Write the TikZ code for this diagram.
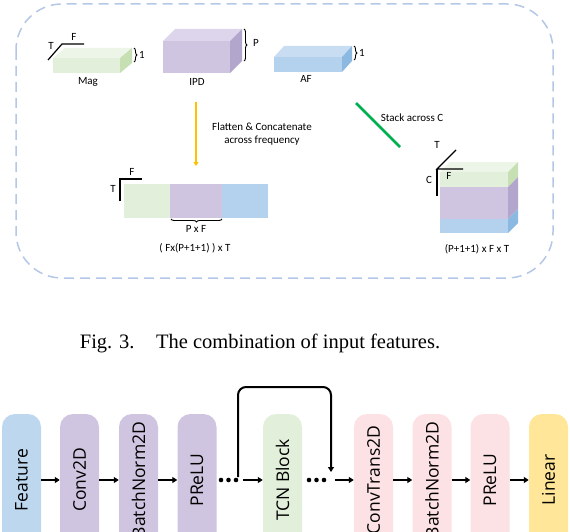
\documentclass[tikz,border=0pt]{standalone}
\usepackage{fontspec}
\setmainfont{Liberation Serif}
\newfontfamily\calibri{Carlito}
\newfontfamily\blocfont{Open Sans}
\usetikzlibrary{arrows.meta,decorations.pathreplacing}

\definecolor{bordbleu}{HTML}{B4C7E7}
\definecolor{vert}{HTML}{E2EFDA}
\definecolor{verthaut}{HTML}{EDF5E8}
\definecolor{vertcote}{HTML}{C6E0B4}
\definecolor{mauve}{HTML}{D0C5E0}
\definecolor{mauvehaut}{HTML}{DDD5EB}
\definecolor{mauvecote}{HTML}{B3A6CC}
\definecolor{bleu}{HTML}{B4D1EE}
\definecolor{bleuhaut}{HTML}{C9DDF2}
\definecolor{bleucote}{HTML}{8CB9E2}
\definecolor{jaune}{HTML}{FFC000}
\definecolor{vertfonce}{HTML}{00B050}
\definecolor{rose}{HTML}{FCE1E5}
\definecolor{jaunepale}{HTML}{FFE699}
\definecolor{bleufeat}{HTML}{BDD7EE}

% pave : x1, y1, x2, y2 (face avant), dx, dy (profondeur), couleur
\newcommand{\pave}[7]{%
  \fill[#7] (#1,#2) rectangle (#3,#4);
  \fill[#7haut] (#1,#2) -- ++(#5,-#6) -- (#3+#5,#2-#6) -- (#3,#2) -- cycle;
  \fill[#7cote] (#3,#2) -- ++(#5,-#6) -- ++(0,#4-#2) -- (#3,#4) -- cycle;
}

\tikzset{
  lbl/.style={font=\calibri\fontsize{11}{13}\selectfont, inner sep=0pt},
  axe/.style={line width=1.2pt},
  acc/.style={decorate, decoration={brace, amplitude=3pt}, line width=0.9pt},
  bloc/.style={rounded corners=13pt, minimum width=39pt, minimum height=132pt,
    inner sep=0pt, font=\blocfont\fontsize{17.5}{19}\selectfont},
  fleche/.style={line width=2.4pt, -{Triangle[length=5pt,width=6pt]}},
}

\begin{document}
\begin{tikzpicture}[x=1pt, y=-1pt]
  \clip (0,0) rectangle (570,532);

  % cadre en tirets
  \draw[bordbleu, line width=1.5pt, dash pattern=on 10pt off 6pt, rounded corners=46pt]
    (16,4) rectangle (553,278);

  % trois paves d'entree
  \pave{53}{58}{120}{73}{12}{10}{vert}
  \pave{163}{41}{230}{73}{12}{12}{mauve}
  \pave{274}{57}{342}{72}{10}{11}{bleu}

  % axes T / F du Mag
  \draw[axe] (48,60) -- (62,44) -- (84,44);
  \node[lbl] (mT) at (51,46) {T};
  \node[lbl] (mF) at (74,37) {F};

  % accolades et noms
  \draw[acc] (134,48) -- (134,62);
  \node[lbl] (m1) at (142,55) {1};
  \draw[acc] (244,29) -- (244,61);
  \node[lbl] (p1) at (256,43) {P};
  \draw[acc] (354,46) -- (354,60);
  \node[lbl] (a1) at (362,53) {1};
  \node[lbl] (mag) at (88,82) {Mag};
  \node[lbl] (ipd) at (197,82) {IPD};
  \node[lbl] (af) at (306,79) {AF};

  % fleche jaune : concatenation
  \coordinate (j1) at (196,102);
  \coordinate (j2) at (196,166);
  \draw[jaune, line width=2pt, -{Triangle[length=4pt,width=5pt]}] (j1) -- (j2);
  \node[lbl, align=center] (fc) at (262,134) {Flatten \& Concatenate\\across frequency};

  % trait vert : empilement
  \coordinate (g1) at (356,103);
  \coordinate (g2) at (400,147);
  \draw[vertfonce, line width=2.5pt] (g1) -- (g2);
  \node[lbl] (st) at (412,118) {Stack across C};

  % barre aplatie
  \fill[vert] (124,184) rectangle (170,218);
  \fill[mauve] (170,184) rectangle (222,218);
  \fill[bleu] (222,184) rectangle (268,218);
  \draw[axe] (120,201) -- (120,179) -- (142,179);
  \node[lbl] (bT) at (113,189) {T};
  \node[lbl] (bF) at (132,172) {F};
  \draw[acc] (222,219) -- (171,219);
  \node[lbl] (pf) at (196,229) {P x F};
  \node[lbl] (dim1) at (195,248) {( Fx(P+1+1) ) x T};

  % cube empile
  \fill[vert] (440,172) rectangle (508,187);
  \fill[mauve] (440,187) rectangle (508,219);
  \fill[bleu] (440,219) rectangle (508,233);
  \fill[verthaut] (440,172) -- (450,162) -- (518,162) -- (508,172) -- cycle;
  \fill[vertcote] (508,172) -- (518,162) -- (518,177) -- (508,187) -- cycle;
  \fill[mauvecote] (508,187) -- (518,177) -- (518,209) -- (508,219) -- cycle;
  \fill[bleucote] (508,219) -- (518,209) -- (518,223) -- (508,233) -- cycle;
  \draw[axe] (456,150) -- (437,169) -- (463,169);
  \draw[axe] (437,169) -- (437,196);
  \node[lbl] (cT) at (437,145) {T};
  \node[lbl] (cC) at (429,180) {C};
  \node[lbl] (cF) at (449,176) {F};
  \node[lbl] (dim2) at (477,249) {(P+1+1) x F x T};

  % legende
  \node[font=\fontsize{20.5}{24}\selectfont, inner sep=0pt] (legende) at (260,343)
    {Fig. 3.\hspace{1.05em}The combination of input features.};

  % chaine de blocs
  \node[bloc, fill=bleufeat] (feat) at (21.5,480) {\rotatebox{90}{Feature}};
  \node[bloc, fill=mauve] (conv) at (79.5,480) {\rotatebox{90}{Conv2D}};
  \node[bloc, fill=mauve] (bn1) at (138.5,480) {\rotatebox{90}{BatchNorm2D}};
  \node[bloc, fill=mauve] (pr1) at (197,480) {\rotatebox{90}{PReLU}};
  \node[bloc, fill=vert] (tcn) at (282.5,480) {\rotatebox{90}{TCN Block}};
  \node[bloc, fill=rose] (ct) at (373.5,480) {\rotatebox{90}{ConvTrans2D}};
  \node[bloc, fill=rose] (bn2) at (432,480) {\rotatebox{90}{BatchNorm2D}};
  \node[bloc, fill=rose] (pr2) at (490,480) {\rotatebox{90}{PReLU}};
  \node[bloc, fill=jaunepale] (lin) at (548.5,480) {\rotatebox{90}{Linear}};

  \draw[fleche] (feat) -- (conv);
  \draw[fleche] (conv) -- (bn1);
  \draw[fleche] (bn1) -- (pr1);
  \draw[fleche] (ct) -- (bn2);
  \draw[fleche] (bn2) -- (pr2);
  \draw[fleche] (pr2) -- (lin);

  % points de suspension
  \foreach \x in {221,228.5,236} \fill (\x,480) circle (2.3pt);
  \foreach \x in {309,316.5,324} \fill (\x,480) circle (2.3pt);
  \coordinate (s1) at (243,480);
  \coordinate (s2) at (335,480);
  \draw[fleche] (s1) -- (tcn);
  \draw[fleche] (s2) -- (ct);

  % connexion residuelle
  \coordinate (sa) at (238,477);
  \coordinate (haut) at (285,387);
  \coordinate (sb) at (331,472);
  \draw[line width=2pt, rounded corners=8pt, -{Triangle[length=5pt,width=6pt]}]
    (sa) |- (haut) -| (sb);
\end{tikzpicture}
\end{document}
